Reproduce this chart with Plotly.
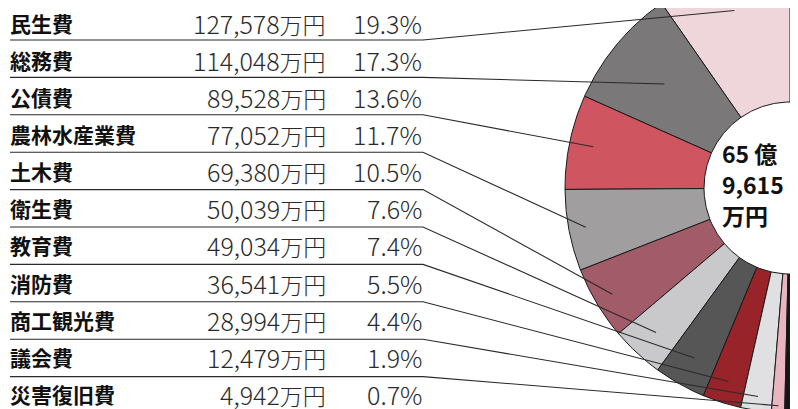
import numpy as np
import plotly.graph_objects as go

# ---------------- data ----------------
categories = ["民生費", "総務費", "公債費", "農林水産業費", "土木費", "衛生費",
              "教育費", "消防費", "商工観光費", "議会費", "災害復旧費"]
amounts = [127578, 114048, 89528, 77052, 69380, 50039, 49034, 36541, 28994, 12479, 4942]
percents = [19.3, 17.3, 13.6, 11.7, 10.5, 7.6, 7.4, 5.5, 4.4, 1.9, 0.7]
total_lines = ["65 億", "9,615", "万円"]

# ---------------- style / layout ----------------
colors = ["#eed6da", "#7a7879", "#cf5561", "#a09e9f", "#a25c69", "#c9c9cb",
          "#565656", "#982329", "#e0e0e2", "#e9b5be", "#151515"]
W, H = 798, 409
OFF = 8                    # page body margin: axis units == window pixels
CX, CY = 790, 188          # donut centre (px)
R_OUT, R_IN = 225, 86      # radii (px)
START = 90.0               # half donut: from top, counter-clockwise to bottom
SPAN = 180.0
ROW0, ROWSTEP = 22.5, 37.15
LINE0, LINESTEP = 40.0, 37.4
LINE_X0, LINE_X1 = 10, 423
leader_r = [186, 163, 201, 208, 207, 197, 195, 203, 211, 218]
FONT = "Noto Sans CJK JP"

fig = go.Figure()

total = float(sum(amounts))
cum = np.concatenate([[0.0], np.cumsum(amounts)]) / total
angles = START + SPAN * cum


def pt(r, a):
    t = np.radians(a)
    return CX + r * np.cos(t), CY - r * np.sin(t)


# slices
for i, name in enumerate(categories):
    a0, a1 = angles[i], angles[i + 1]
    n = max(4, int(abs(a1 - a0) * 2))
    th = np.linspace(a0, a1, n)
    xo, yo = pt(R_OUT, th)
    xi, yi = pt(R_IN, th[::-1])
    xs = np.concatenate([xo, xi, xo[:1]])
    ys = np.concatenate([yo, yi, yo[:1]])
    fig.add_trace(go.Scatter(x=xs, y=ys, mode="lines", fill="toself",
                             fillcolor=colors[i], line=dict(color="#1a1a1a", width=1),
                             name=name, hoverinfo="name", showlegend=False))

# underlines + leader lines
for i in range(len(categories) - 1):
    ly = LINE0 + LINESTEP * i
    mid = (angles[i] + angles[i + 1]) / 2
    ex, ey = pt(leader_r[i], mid)
    fig.add_trace(go.Scatter(x=[LINE_X0, LINE_X1, ex], y=[ly, ly, ey], mode="lines",
                             line=dict(color="#2a2a2a", width=1.1),
                             hoverinfo="skip", showlegend=False))

# table text
for i, name in enumerate(categories):
    y = ROW0 + ROWSTEP * i
    fig.add_annotation(x=8, y=y, text=name, showarrow=False, xanchor="left", yanchor="middle",
                       font=dict(family=FONT, size=21, color="#111111", weight="bold"))
    fig.add_annotation(x=328, y=y,
                       text=f"{amounts[i]:,}<span style='font-size:23px'>万円</span>",
                       showarrow=False, xanchor="right", yanchor="middle",
                       font=dict(family=FONT, size=25, color="#2a2a2a", weight=300))
    fig.add_annotation(x=424, y=y, text=f"{percents[i]:.1f}%", showarrow=False,
                       xanchor="right", yanchor="middle",
                       font=dict(family=FONT, size=25, color="#2a2a2a", weight=300))

# centre total
for k, t in enumerate(total_lines):
    fig.add_annotation(x=720, y=153 + 31 * k, text=t, showarrow=False,
                       xanchor="left", yanchor="middle",
                       font=dict(family=FONT, size=23, color="#111111", weight="bold"))

fig.update_layout(
    width=W, height=H, margin=dict(l=0, r=0, t=0, b=0),
    paper_bgcolor="white", plot_bgcolor="white",
    xaxis=dict(range=[OFF, W + OFF], visible=False, fixedrange=True),
    yaxis=dict(range=[H + OFF, OFF], visible=False, fixedrange=True),
    showlegend=False,
)

fig.write_html("out.html")
